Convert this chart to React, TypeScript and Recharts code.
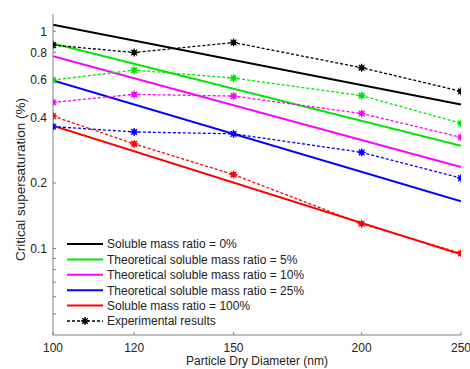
import React from 'react';
import { LineChart, Line, XAxis, YAxis } from 'recharts';

const diameters = [100, 120, 150, 200, 250];
const theoryDiameters = [100, 250];
const xTicks = [100, 120, 150, 200, 250];
const yMajorTicks = [0.1, 0.2, 0.4, 0.6, 0.8, 1];
const yMinorTicks = [0.05, 0.06, 0.07, 0.08, 0.09];
const yTicks = [...yMinorTicks, ...yMajorTicks];

const theory0 = [1.07, 0.46];
const theory5 = [0.878, 0.297];
const theory10 = [0.768, 0.237];
const theory25 = [0.594, 0.165];
const theory100 = [0.367, 0.094];

const expBlack = [0.863, 0.798, 0.887, 0.679, 0.529];
const expGreen = [0.596, 0.662, 0.609, 0.505, 0.377];
const expMagenta = [0.471, 0.512, 0.503, 0.418, 0.325];
const expBlue = [0.364, 0.344, 0.337, 0.277, 0.211];
const expRed = [0.407, 0.303, 0.219, 0.13, 0.095];

const legendNames = [
  'Soluble mass ratio = 0%',
  'Theoretical soluble mass ratio = 5%',
  'Theoretical soluble mass ratio = 10%',
  'Theoretical soluble mass ratio = 25%',
  'Soluble mass ratio = 100%',
  'Experimental results',
];

const BLACK = '#000000';
const GREEN = '#00e600';
const MAGENTA = '#ff00ff';
const BLUE = '#0000ff';
const RED = '#ff0000';
const legendColors = [BLACK, GREEN, MAGENTA, BLUE, RED, BLACK];

const AXIS = '#808080';
const TEXT = '#222222';
const FONT = '"Liberation Sans", Arial, sans-serif';
const MARGIN = 6;
const TICK_LEN = 3;

const toPoints = (xs: number[], ys: number[]) => xs.map((x, i) => ({ x, y: ys[i] }));

const Star = (props: any) => {
  const { cx, cy, stroke } = props;
  if (cx == null || cy == null) return null;
  const r = 4;
  const d = r * 0.72;
  return (
    <g>
      <circle cx={cx} cy={cy} r={2.6} fill={stroke} />
      <line x1={cx - r} x2={cx + r} y1={cy} y2={cy} stroke={stroke} strokeWidth={1.3} />
      <line x1={cx} x2={cx} y1={cy - r} y2={cy + r} stroke={stroke} strokeWidth={1.3} />
      <line x1={cx - d} x2={cx + d} y1={cy - d} y2={cy + d} stroke={stroke} strokeWidth={1.3} />
      <line x1={cx - d} x2={cx + d} y1={cy + d} y2={cy - d} stroke={stroke} strokeWidth={1.3} />
    </g>
  );
};

const LeftTick = (props: any) => {
  const { x, y, payload } = props;
  const ax = x + MARGIN;
  const major = yMajorTicks.includes(payload.value);
  return (
    <g>
      <line x1={ax} x2={ax + TICK_LEN} y1={y} y2={y} stroke={AXIS} />
      {major && (
        <text x={x} y={y} dy={4.3} textAnchor="end" fontSize={12} fontFamily={FONT} fill={TEXT}>
          {payload.value}
        </text>
      )}
    </g>
  );
};

const RightTick = (props: any) => {
  const { x, y } = props;
  const ax = x - MARGIN;
  return <line x1={ax} x2={ax - TICK_LEN} y1={y} y2={y} stroke={AXIS} />;
};

const BottomTick = (props: any) => {
  const { x, y, payload } = props;
  const ay = y - MARGIN;
  return (
    <g>
      <line x1={x} x2={x} y1={ay} y2={ay - TICK_LEN} stroke={AXIS} />
      <text x={x} y={y} dy={11} textAnchor="middle" fontSize={12} fontFamily={FONT} fill={TEXT}>
        {payload.value}
      </text>
    </g>
  );
};

const TopTick = (props: any) => {
  const { x, y } = props;
  const ay = y + MARGIN;
  return <line x1={x} x2={x} y1={ay} y2={ay + TICK_LEN} stroke={AXIS} />;
};

const YLabel = (props: any) => {
  const vb = props.viewBox || {};
  const x = (vb.x || 0) + 20;
  const y = (vb.y || 0) + (vb.height || 0) / 2 + 5;
  return (
    <text
      x={x}
      y={y}
      transform={`rotate(-90, ${x}, ${y})`}
      textAnchor="middle"
      dominantBaseline="central"
      fontSize={13.5}
      fontFamily={FONT}
      fill={TEXT}
    >
      Critical supersaturation (%)
    </text>
  );
};

const LegendContent = () => (
  <svg width={260} height={100} style={{ display: 'block', overflow: 'visible' }}>
    {legendNames.map((name, i) => {
      const cy = 8 + i * 15.4;
      const exp = i === legendNames.length - 1;
      return (
        <g key={name}>
          <line
            x1={1}
            x2={37}
            y1={cy}
            y2={cy}
            stroke={legendColors[i]}
            strokeWidth={exp ? 1.3 : 2}
            strokeDasharray={exp ? '3 2' : undefined}
          />
          {exp && <Star cx={19} cy={cy} stroke={BLACK} />}
          <text x={41} y={cy} dy={4.3} fontSize={12} fontFamily={FONT} fill={TEXT}>
            {name}
          </text>
        </g>
      );
    })}
  </svg>
);

const theorySeries = [
  { key: 't0', values: theory0, color: BLACK },
  { key: 't5', values: theory5, color: GREEN },
  { key: 't10', values: theory10, color: MAGENTA },
  { key: 't25', values: theory25, color: BLUE },
  { key: 't100', values: theory100, color: RED },
];

const expSeries = [
  { key: 'eBlack', values: expBlack, color: BLACK },
  { key: 'eGreen', values: expGreen, color: GREEN },
  { key: 'eMagenta', values: expMagenta, color: MAGENTA },
  { key: 'eBlue', values: expBlue, color: BLUE },
  { key: 'eRed', values: expRed, color: RED },
];

export default function App() {
  return (
    <div style={{ position: 'absolute', left: 0, top: 0, width: 470, height: 369, background: '#fff' }}>
      <LineChart width={470} height={369} margin={{ top: 14, right: 9, bottom: 0, left: 0 }}>
        <XAxis
          dataKey="x"
          type="number"
          scale="log"
          domain={[100, 250]}
          allowDataOverflow
          ticks={xTicks}
          interval={0}
          height={34}
          stroke={AXIS}
          tickLine={false}
          tickSize={0}
          tickMargin={MARGIN}
          tick={<BottomTick />}
          label={{
            value: 'Particle Dry Diameter (nm)',
            position: 'insideBottom',
            offset: 4,
            style: { fontSize: 12, fontFamily: FONT, fill: TEXT },
          }}
        />
        <XAxis
          xAxisId="top"
          orientation="top"
          dataKey="x"
          type="number"
          scale="log"
          domain={[100, 250]}
          allowDataOverflow
          ticks={xTicks}
          interval={0}
          height={0}
          stroke={AXIS}
          tickLine={false}
          tickSize={0}
          tickMargin={MARGIN}
          tick={<TopTick />}
        />
        <YAxis
          type="number"
          scale="log"
          domain={[0.04, 1.2]}
          allowDataOverflow
          ticks={yTicks}
          interval={0}
          width={53}
          stroke={AXIS}
          tickLine={false}
          tickSize={0}
          tickMargin={MARGIN}
          tick={<LeftTick />}
          label={{ content: <YLabel /> }}
        />
        <YAxis
          yAxisId="right"
          orientation="right"
          type="number"
          scale="log"
          domain={[0.04, 1.2]}
          allowDataOverflow
          ticks={yTicks}
          interval={0}
          width={0}
          stroke={AXIS}
          tickLine={false}
          tickSize={0}
          tickMargin={MARGIN}
          tick={<RightTick />}
        />
        {theorySeries.map((s) => (
          <Line
            key={s.key}
            data={toPoints(theoryDiameters, s.values)}
            dataKey="y"
            stroke={s.color}
            strokeWidth={2}
            dot={false}
            activeDot={false}
            isAnimationActive={false}
          />
        ))}
        {expSeries.map((s) => (
          <Line
            key={s.key}
            data={toPoints(diameters, s.values)}
            dataKey="y"
            stroke={s.color}
            strokeWidth={1.3}
            strokeDasharray="3 2"
            dot={<Star />}
            activeDot={false}
            isAnimationActive={false}
          />
        ))}
      </LineChart>
      <div style={{ position: 'absolute', left: 66, top: 236, width: 260, height: 100 }}>
        <LegendContent />
      </div>
    </div>
  );
}
